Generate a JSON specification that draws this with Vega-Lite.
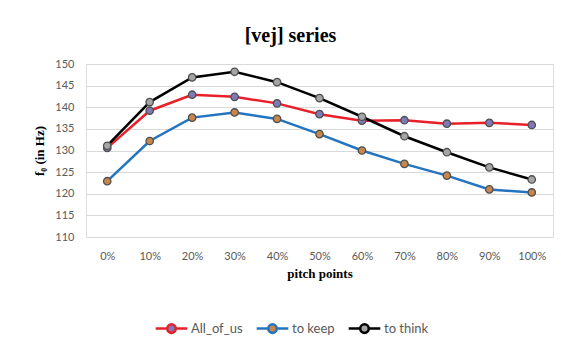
{
  "$schema": "https://vega.github.io/schema/vega-lite/v6.json",
  "width": 467,
  "height": 173,
  "autosize": {"type": "none"},
  "padding": {"left": 86, "top": 64, "right": 8, "bottom": 103},
  "background": "white",
  "title": {
    "text": "[vej] series",
    "font": "Liberation Serif",
    "fontSize": 20,
    "fontWeight": "bold",
    "color": "#000000",
    "anchor": "middle",
    "dx": -29,
    "offset": 12
  },
  "data": {
    "values": [
      {"pt": "0%", "series": "All_of_us", "v": 130.6},
      {"pt": "10%", "series": "All_of_us", "v": 139.2},
      {"pt": "20%", "series": "All_of_us", "v": 142.9},
      {"pt": "30%", "series": "All_of_us", "v": 142.4},
      {"pt": "40%", "series": "All_of_us", "v": 140.9},
      {"pt": "50%", "series": "All_of_us", "v": 138.4},
      {"pt": "60%", "series": "All_of_us", "v": 136.9},
      {"pt": "70%", "series": "All_of_us", "v": 137.0},
      {"pt": "80%", "series": "All_of_us", "v": 136.2},
      {"pt": "90%", "series": "All_of_us", "v": 136.4},
      {"pt": "100%", "series": "All_of_us", "v": 135.9},
      {"pt": "0%", "series": "to keep", "v": 122.9},
      {"pt": "10%", "series": "to keep", "v": 132.2},
      {"pt": "20%", "series": "to keep", "v": 137.6},
      {"pt": "30%", "series": "to keep", "v": 138.8},
      {"pt": "40%", "series": "to keep", "v": 137.3},
      {"pt": "50%", "series": "to keep", "v": 133.8},
      {"pt": "60%", "series": "to keep", "v": 130.0},
      {"pt": "70%", "series": "to keep", "v": 126.9},
      {"pt": "80%", "series": "to keep", "v": 124.2},
      {"pt": "90%", "series": "to keep", "v": 121.0},
      {"pt": "100%", "series": "to keep", "v": 120.3},
      {"pt": "0%", "series": "to think", "v": 131.1},
      {"pt": "10%", "series": "to think", "v": 141.2},
      {"pt": "20%", "series": "to think", "v": 146.9},
      {"pt": "30%", "series": "to think", "v": 148.2},
      {"pt": "40%", "series": "to think", "v": 145.8},
      {"pt": "50%", "series": "to think", "v": 142.1},
      {"pt": "60%", "series": "to think", "v": 137.8},
      {"pt": "70%", "series": "to think", "v": 133.3},
      {"pt": "80%", "series": "to think", "v": 129.6},
      {"pt": "90%", "series": "to think", "v": 126.1},
      {"pt": "100%", "series": "to think", "v": 123.3}
    ]
  },
  "encoding": {
    "x": {
      "field": "pt",
      "type": "ordinal",
      "sort": null,
      "scale": {"type": "point", "padding": 0.5},
      "axis": {
        "title": "pitch points",
        "titleFont": "Liberation Serif",
        "titleFontSize": 13,
        "titleFontWeight": "bold",
        "titleColor": "#000000",
        "titlePadding": 6,
        "labelAngle": 0,
        "labelFont": "Lato",
        "labelFontSize": 11,
        "labelColor": "#595959",
        "labelPadding": 13,
        "ticks": false,
        "domain": false,
        "grid": false
      }
    },
    "y": {
      "field": "v",
      "type": "quantitative",
      "scale": {"domain": [110, 150], "zero": false, "nice": false},
      "axis": {
        "title": "f₀ (in Hz)",
        "titleFont": "Liberation Serif",
        "titleFontSize": 13,
        "titleFontWeight": "bold",
        "titleColor": "#000000",
        "titlePadding": 8,
        "values": [110, 115, 120, 125, 130, 135, 140, 145, 150],
        "labelFont": "Lato",
        "labelFontSize": 11,
        "labelColor": "#595959",
        "labelPadding": 12,
        "ticks": false,
        "domain": false,
        "grid": true,
        "gridColor": "#d9d9d9",
        "gridWidth": 1
      }
    }
  },
  "layer": [
    {
      "mark": {"type": "line", "strokeWidth": 2.5},
      "encoding": {
        "stroke": {
          "field": "series",
          "type": "nominal",
          "scale": {"domain": ["All_of_us", "to keep", "to think"], "range": ["#e8202a", "#2474c0", "#000000"]},
          "legend": {
            "title": null,
            "orient": "none",
            "direction": "horizontal",
            "legendX": 68,
            "legendY": 247,
            "symbolType": "M-1,0H-0.27M0.27,0H1M-0.27,0A0.27,0.27 0 1,1 0.27,0A0.27,0.27 0 1,1 -0.27,0Z",
            "symbolSize": 1000,
            "symbolStrokeWidth": 2.5,
            "labelFont": "Lato",
            "labelFontSize": 13,
            "labelColor": "#595959",
            "columnPadding": 8,
            "labelOffset": 2
          }
        }
      }
    },
    {
      "mark": {"type": "point", "shape": "circle", "filled": true, "size": 55, "opacity": 1, "stroke": "#505050", "strokeWidth": 1.3},
      "encoding": {
        "fill": {
          "field": "series",
          "type": "nominal",
          "scale": {"domain": ["All_of_us", "to keep", "to think"], "range": ["#8079b8", "#c8864c", "#a5a5a5"]},
          "legend": {
            "title": null,
            "orient": "none",
            "direction": "horizontal",
            "legendX": 68,
            "legendY": 247,
            "symbolType": "M-1,0H-0.27M0.27,0H1M-0.27,0A0.27,0.27 0 1,1 0.27,0A0.27,0.27 0 1,1 -0.27,0Z",
            "symbolSize": 1000,
            "symbolStrokeWidth": 2.5,
            "labelFont": "Lato",
            "labelFontSize": 13,
            "labelColor": "#595959",
            "columnPadding": 8,
            "labelOffset": 2
          }
        }
      }
    }
  ]
}
